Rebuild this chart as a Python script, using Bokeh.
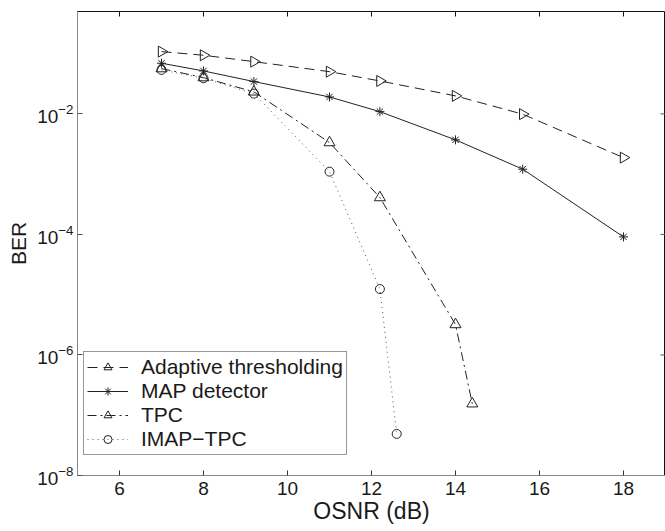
import math
from bokeh.plotting import figure
from bokeh.models import Range1d, FixedTicker, LogTickFormatter, Legend
from bokeh.embed import file_html
from bokeh.resources import INLINE

# ---- data ----
osnr = [7, 8, 9.2, 11, 12.2, 14, 15.6, 18]
ber_adaptive = [0.108, 0.094, 0.0736, 0.0502, 0.0352, 0.0199, 0.0099, 0.00188]
ber_map = [0.0693, 0.0516, 0.0344, 0.0191, 0.0109, 0.00371, 0.00121, 9.1e-5]
osnr_tpc = [7, 8, 9.2, 11, 12.2, 14, 14.4]
ber_tpc = [0.0564, 0.040, 0.0232, 0.00334, 4.09e-4, 3.2e-6, 1.55e-7]
osnr_imap = [7, 8, 9.2, 11, 12.2, 12.6]
ber_imap = [0.0537, 0.0391, 0.0217, 0.0011, 1.24e-5, 4.9e-8]

x_ticks = [6, 8, 10, 12, 14, 16, 18]
y_ticks = [1e-8, 1e-6, 1e-4, 1e-2]
x_lo, x_hi = 5, 19
y_lo, y_hi = 1e-8, 0.5

FONT = "Liberation Sans"
TXT = "#1a1a1a"

p = figure(width=665, height=530, output_backend="svg", toolbar_location=None,
           y_axis_type="log", x_range=Range1d(x_lo, x_hi), y_range=Range1d(y_lo, y_hi),
           min_border_left=77, min_border_right=0, min_border_top=11, min_border_bottom=55)
p.outline_line_color = "#111111"
p.xgrid.visible = False
p.ygrid.visible = False
p.background_fill_color = "white"
p.border_fill_color = "white"

# bottom axis
xa = p.xaxis[0]
xa.ticker = FixedTicker(ticks=x_ticks)
xa.axis_label = "OSNR (dB)"
xa.axis_label_text_font = FONT
xa.axis_label_text_font_size = "23px"
xa.axis_label_text_font_style = "normal"
xa.axis_label_text_color = TXT
xa.axis_label_standoff = 0
xa.major_label_text_font = FONT
xa.major_label_text_font_size = "19px"
xa.major_label_text_color = TXT
xa.major_label_standoff = 6
xa.major_tick_in = 5
xa.major_tick_out = 0
xa.minor_tick_in = 0
xa.minor_tick_out = 0
xa.axis_line_color = "#888888"
xa.major_tick_line_color = "#333333"

# left axis
ya = p.yaxis[0]
ya.ticker = FixedTicker(ticks=y_ticks)
ya.formatter = LogTickFormatter()
ya.axis_label = "BER"
ya.axis_label_text_font = FONT
ya.axis_label_text_font_size = "21px"
ya.axis_label_text_font_style = "normal"
ya.axis_label_text_color = TXT
ya.axis_label_standoff = 4
ya.major_label_text_font = FONT
ya.major_label_text_font_size = "19px"
ya.major_label_text_color = TXT
ya.major_label_standoff = 4
ya.major_tick_in = 5
ya.major_tick_out = 0
ya.minor_tick_in = 0
ya.minor_tick_out = 0
ya.axis_line_color = "#888888"
ya.major_tick_line_color = "#555555"

# top and right inward ticks (box style), from the tick arrays
p.ray(x=x_ticks, y=[y_hi] * len(x_ticks), length=5, length_units="screen",
      angle=-math.pi / 2, line_color="#111111", line_width=1)
p.ray(x=[x_hi] * len(y_ticks), y=y_ticks, length=5, length_units="screen",
      angle=math.pi, line_color="#555555", line_width=1)

LC = "#222222"

# Adaptive thresholding
r1 = p.line(osnr, ber_adaptive, line_color=LC, line_width=1, line_dash="10 6")
s1 = p.scatter(osnr, ber_adaptive, marker="triangle", angle=-math.pi / 2, size=11,
               line_color=LC, fill_color=None, line_width=1)
# MAP detector
r2 = p.line(osnr, ber_map, line_color=LC, line_width=1)
s2 = p.scatter(osnr, ber_map, marker="asterisk", size=9, line_color=LC, line_width=1)
# TPC
r3 = p.line(osnr_tpc, ber_tpc, line_color=LC, line_width=1, line_dash="9 4 2 4")
s3 = p.scatter(osnr_tpc, ber_tpc, marker="triangle", size=11, line_color=LC,
               fill_color=None, line_width=1)
# IMAP-TPC
r4 = p.line(osnr_imap, ber_imap, line_color="#555555", line_width=1, line_dash="1 4")
s4 = p.scatter(osnr_imap, ber_imap, marker="circle", size=9, line_color=LC,
               fill_color=None, line_width=1)

legend = Legend(items=[("Adaptive thresholding", [r1, s1]),
                       ("MAP detector", [r2, s2]),
                       ("TPC", [r3, s3]),
                       ("IMAP\u2212TPC", [r4, s4])],
                location=(6, 20))
legend.label_text_font = FONT
legend.label_text_font_size = "21px"
legend.label_text_color = TXT
legend.glyph_width = 41
legend.glyph_height = 20
legend.label_height = 20
legend.label_standoff = 13
legend.spacing = 0
legend.padding = 3
legend.margin = 0
legend.border_line_color = "#333333"
legend.border_line_width = 1
legend.background_fill_color = "white"
legend.background_fill_alpha = 1
p.add_layout(legend, "center")

open("out.html", "w").write(file_html(p, INLINE))
